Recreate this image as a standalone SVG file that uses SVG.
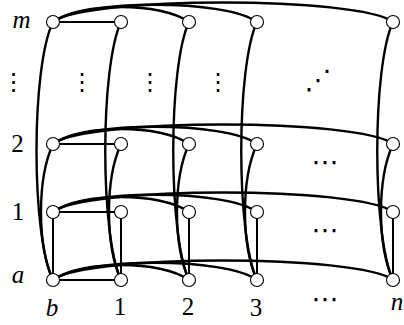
<svg xmlns="http://www.w3.org/2000/svg" width="404" height="325" viewBox="0 0 404 325">
<style>
.e{fill:none;stroke:#000;stroke-width:2.4}
.s{fill:none;stroke:#000;stroke-width:2}
.n{fill:#fff;stroke:#000;stroke-width:1.1}
.l{font-family:"Liberation Serif",serif;font-size:25px;text-anchor:middle;fill:#000}
.i{font-style:italic}
.d{font-family:"DejaVu Sans",sans-serif;font-size:24px;text-anchor:middle;fill:#000}
.h{font-size:27px}
</style>
<rect width="404" height="325" fill="#fff"/>
<g id="connectors">
<path class="s" d="M53,22H121M53,144H121M53,212H121M53,280H121"/>
<path class="s" d="M53,280V212M121,280V212M189,280V212M257,280V212M393,280V212"/>
<g class="e">
<path d="M53,22C81,2 161,2 189,22"/><path d="M53,22C83,-1 227,-1 257,22"/><path d="M53,22C87,-4 359,-4 393,22"/>
<path d="M53,144C81,124 161,124 189,144"/><path d="M53,144C83,121 227,121 257,144"/><path d="M53,144C87,118 359,118 393,144"/>
<path d="M53,212C81,192 161,192 189,212"/><path d="M53,212C83,189 227,189 257,212"/><path d="M53,212C87,186 359,186 393,212"/>
<path d="M53,280C81,260 161,260 189,280"/><path d="M53,280C83,257 227,257 257,280"/><path d="M53,280C87,254 359,254 393,280"/>
</g>
<g class="e">
<path d="M53,280C37,245 37,179 53,144"/><path d="M53,280C31,235 31,67 53,22"/>
<path d="M121,280C105,245 105,179 121,144"/><path d="M121,280C100,235 100,67 121,22"/>
<path d="M189,280C173,245 173,179 189,144"/><path d="M189,280C168,235 168,67 189,22"/>
<path d="M257,280C241,245 241,179 257,144"/><path d="M257,280C236,235 236,67 257,22"/>
<path d="M393,280C377,245 377,179 393,144"/><path d="M393,280C372,235 372,67 393,22"/>
</g>
</g>
<g id="row-m">
<g id="n-m-b"><circle class="n" cx="53" cy="22" r="6.5"/></g>
<g id="n-m-1"><circle class="n" cx="121" cy="22" r="6.5"/></g>
<g id="n-m-2"><circle class="n" cx="189" cy="22" r="6.5"/></g>
<g id="n-m-3"><circle class="n" cx="257" cy="22" r="6.5"/></g>
<g id="n-m-n"><circle class="n" cx="393" cy="22" r="6.5"/></g>
</g>
<g id="row-2">
<g id="n-2-b"><circle class="n" cx="53" cy="144" r="6.5"/></g>
<g id="n-2-1"><circle class="n" cx="121" cy="144" r="6.5"/></g>
<g id="n-2-2"><circle class="n" cx="189" cy="144" r="6.5"/></g>
<g id="n-2-3"><circle class="n" cx="257" cy="144" r="6.5"/></g>
<g id="n-2-n"><circle class="n" cx="393" cy="144" r="6.5"/></g>
</g>
<g id="row-1">
<g id="n-1-b"><circle class="n" cx="53" cy="212" r="6.5"/></g>
<g id="n-1-1"><circle class="n" cx="121" cy="212" r="6.5"/></g>
<g id="n-1-2"><circle class="n" cx="189" cy="212" r="6.5"/></g>
<g id="n-1-3"><circle class="n" cx="257" cy="212" r="6.5"/></g>
<g id="n-1-n"><circle class="n" cx="393" cy="212" r="6.5"/></g>
</g>
<g id="row-a">
<g id="n-a-b"><circle class="n" cx="53" cy="280" r="6.5"/></g>
<g id="n-a-1"><circle class="n" cx="121" cy="280" r="6.5"/></g>
<g id="n-a-2"><circle class="n" cx="189" cy="280" r="6.5"/></g>
<g id="n-a-3"><circle class="n" cx="257" cy="280" r="6.5"/></g>
<g id="n-a-n"><circle class="n" cx="393" cy="280" r="6.5"/></g>
</g>
<g id="labels">
<text class="l i" x="21.5" y="28">m</text>
<text class="l" x="17.5" y="152">2</text>
<text class="l" x="18" y="220">1</text>
<text class="l i" x="18" y="283">a</text>
<text class="l i" x="52" y="316">b</text>
<text class="l" x="120" y="315">1</text>
<text class="l" x="188" y="315">2</text>
<text class="l" x="256" y="316">3</text>
<text class="l i" x="397" y="310">n</text>
<text class="d" x="13.5" y="90">⋮</text>
<text class="d" x="82" y="90">⋮</text>
<text class="d" x="150" y="90">⋮</text>
<text class="d" x="218" y="90">⋮</text>
<text class="d h" x="318" y="89">⋰</text>
<text class="d h" x="325" y="171">⋯</text>
<text class="d h" x="325" y="239">⋯</text>
<text class="d h" x="325" y="308">⋯</text>
</g>
</svg>
